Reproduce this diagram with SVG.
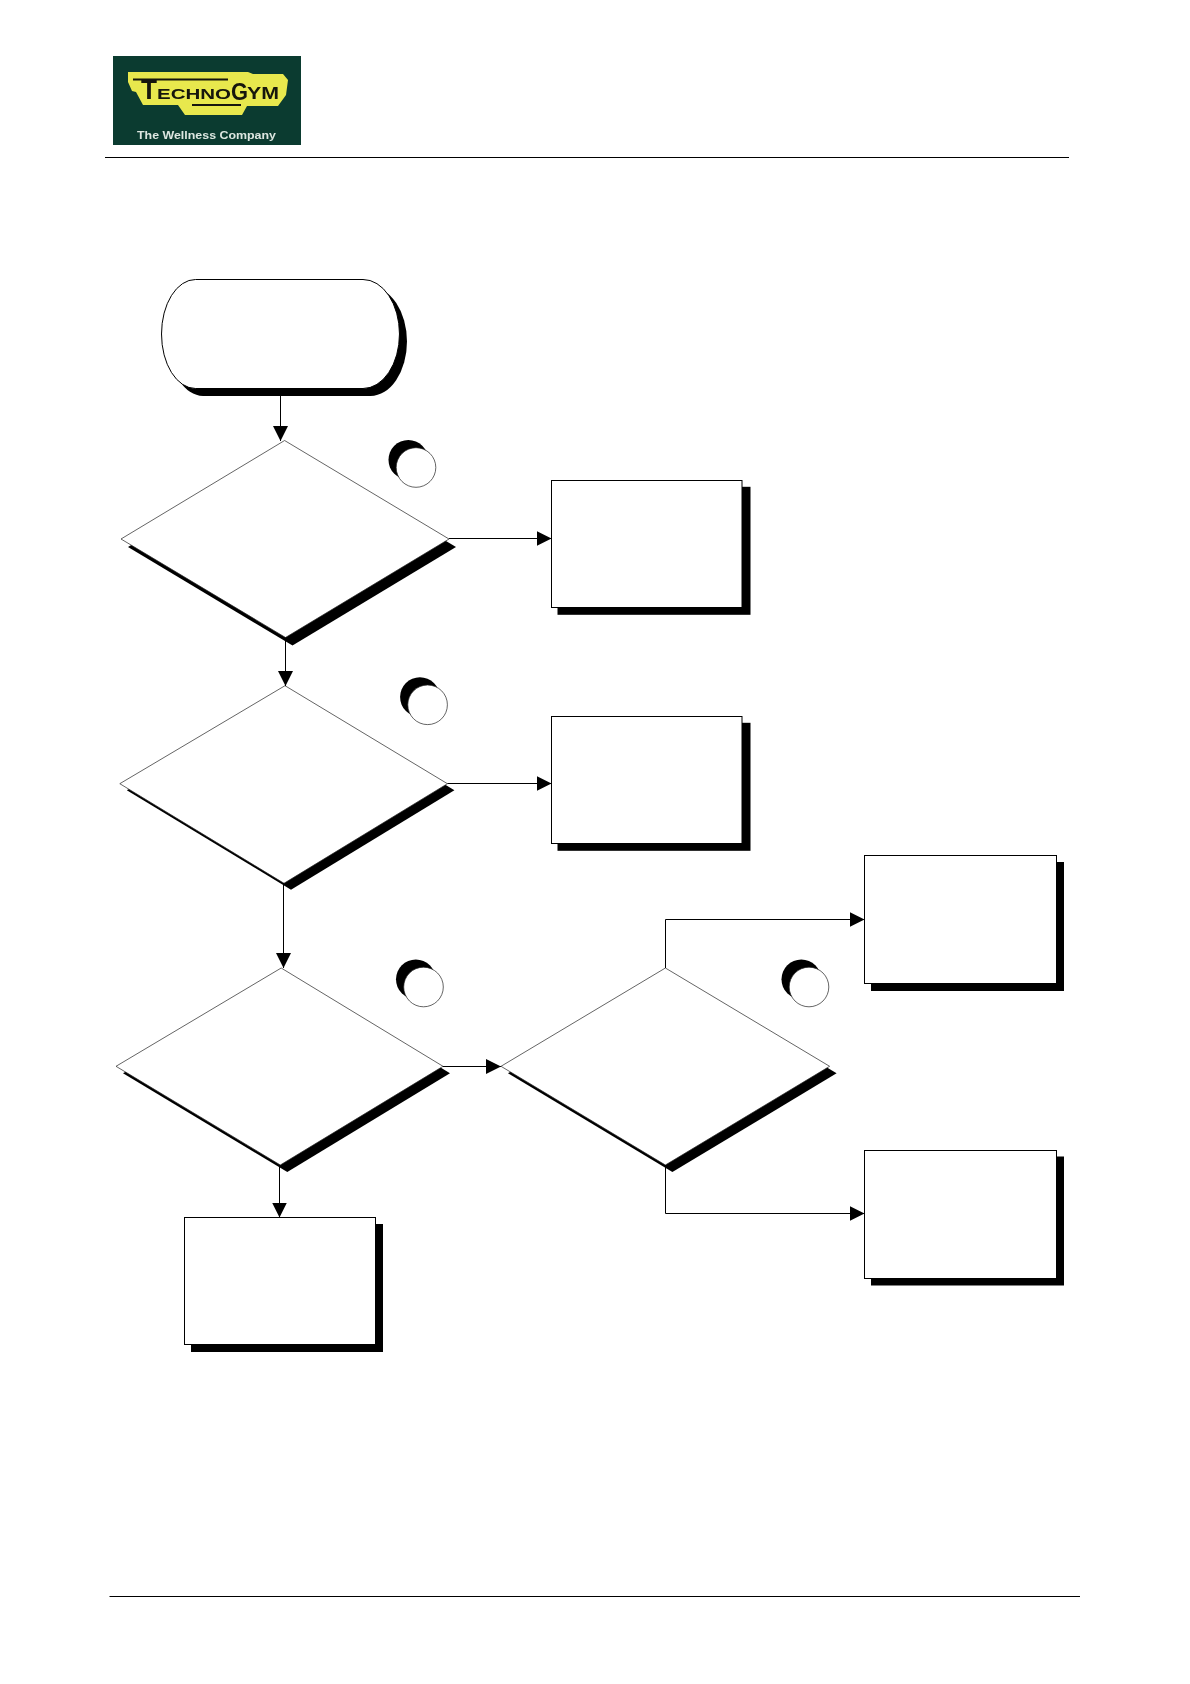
<svg xmlns="http://www.w3.org/2000/svg" width="1190" height="1684" viewBox="0 0 1190 1684">
<style>
.sh{fill:#000;stroke:none}
.box{fill:#fff;stroke:#000;stroke-width:1}
.thin{fill:#fff;stroke:#222;stroke-width:.7}
.rule{stroke:#000;stroke-width:1;fill:none}
.con{stroke:#000;stroke-width:1;fill:none;marker-end:url(#arrow)}
.logo{font-family:"Liberation Sans",Arial,sans-serif;font-weight:bold}
</style>
<defs>
<marker id="arrow" markerUnits="userSpaceOnUse" markerWidth="15" markerHeight="15" viewBox="0 0 15 15" refX="15" refY="7.5" orient="auto"><path d="M0 0L15 7.5L0 15Z" fill="#000"/></marker>
<filter id="soft" x="-5%" y="-5%" width="110%" height="110%"><feGaussianBlur stdDeviation=".45"/></filter>
</defs>
<rect width="1190" height="1684" fill="#fff"/>
<g id="logo">
<rect x="113" y="56" width="188" height="89" fill="#0b3b30"/>
<g filter="url(#soft)">
<path d="M128 72H248L253 74H283L288 80L286 95L278 106H247L242 115H185L178 105H143L136 92L132 91L128 82Z" fill="#e8e84e"/>
<path d="M133 79.5H228M192 105H241" stroke="#15150a" stroke-width="2" fill="none"/>
<text class="logo" x="141" y="99" font-size="27" fill="#15150a" textLength="16" lengthAdjust="spacingAndGlyphs">T</text>
<text class="logo" x="157" y="99" font-size="15.5" fill="#15150a" textLength="74" lengthAdjust="spacingAndGlyphs">ECHNO</text>
<text class="logo" x="231" y="100" font-size="24" fill="#15150a" textLength="17" lengthAdjust="spacingAndGlyphs">G</text>
<text class="logo" x="247" y="99" font-size="17" fill="#15150a" textLength="32" lengthAdjust="spacingAndGlyphs">YM</text>
<text class="logo" x="137" y="139" font-size="11.5" fill="#dce6e0" textLength="139" lengthAdjust="spacingAndGlyphs">The Wellness Company</text>
</g>
</g>
<path class="rule" d="M105 157.5H1069M109.5 1596.5H1080"/>
<g id="start">
<path class="sh" transform="translate(7.5 7.5)" d="M195.5 279.5H363A36.5 54.5 0 0 1 363 388.5H195.5A34 54.5 0 0 1 195.5 279.5Z"/>
<path class="box" d="M195.5 279.5H363A36.5 54.5 0 0 1 363 388.5H195.5A34 54.5 0 0 1 195.5 279.5Z"/>
</g>
<g id="decision1">
<path class="sh" transform="translate(7 8)" d="M284.6 440.5L449 539L285.5 637.5L121 539Z"/>
<path class="thin" d="M284.6 440.5L449 539L285.5 637.5L121 539Z"/>
</g>
<g id="marker1"><ellipse class="sh" cx="408.3" cy="459.8" rx="19.8" ry="19.8"/><ellipse class="thin" cx="416" cy="467.5" rx="19.8" ry="19.8"/></g>
<g id="action1"><rect class="sh" x="557.5" y="486.8" width="193" height="128"/><rect class="box" x="551.5" y="480.5" width="190.5" height="127"/></g>
<g id="decision2">
<path class="sh" transform="translate(7 6.5)" d="M285 685.7L447.4 783.7L284 883.3L119.8 783.7Z"/>
<path class="thin" d="M285 685.7L447.4 783.7L284 883.3L119.8 783.7Z"/>
</g>
<g id="marker2"><ellipse class="sh" cx="419.9" cy="697.1" rx="19.8" ry="19.8"/><ellipse class="thin" cx="427.6" cy="704.8" rx="19.8" ry="19.8"/></g>
<g id="action2"><rect class="sh" x="557.5" y="722.8" width="193" height="128"/><rect class="box" x="551.5" y="716.5" width="190.5" height="127"/></g>
<g id="decision3">
<path class="sh" transform="translate(7 7)" d="M281.2 968L443 1066.3L280.3 1165L116 1066.3Z"/>
<path class="thin" d="M281.2 968L443 1066.3L280.3 1165L116 1066.3Z"/>
</g>
<g id="marker3"><ellipse class="sh" cx="415.8" cy="979.3" rx="19.8" ry="19.8"/><ellipse class="thin" cx="423.5" cy="987" rx="19.8" ry="19.8"/></g>
<g id="decision4">
<path class="sh" transform="translate(7 7)" d="M665.4 968L829.6 1066.3L665.4 1165L501 1066.3Z"/>
<path class="thin" d="M665.4 968L829.6 1066.3L665.4 1165L501 1066.3Z"/>
</g>
<g id="marker4"><ellipse class="sh" cx="801.3" cy="979.3" rx="19.8" ry="19.8"/><ellipse class="thin" cx="809" cy="987" rx="19.8" ry="19.8"/></g>
<g id="action3"><rect class="sh" x="871" y="862" width="193" height="129"/><rect class="box" x="864.5" y="855.5" width="192" height="128"/></g>
<g id="action4"><rect class="sh" x="871" y="1156.5" width="193" height="129"/><rect class="box" x="864.5" y="1150.5" width="192" height="128"/></g>
<g id="action5"><rect class="sh" x="191" y="1224" width="192" height="128"/><rect class="box" x="184.5" y="1217.5" width="191" height="127"/></g>
<g id="connectors">
<path class="con" d="M280.5 396V441"/>
<path class="con" d="M449 538.5H551.5"/>
<path class="con" d="M285.5 637.5V686"/>
<path class="con" d="M447.4 783.5H551.5"/>
<path class="con" d="M283.5 883V968"/>
<path class="con" d="M443 1066.5H501"/>
<path class="con" d="M279.5 1165V1217.5"/>
<path class="con" d="M665.5 968V919.5H864.5"/>
<path class="con" d="M665.5 1165V1213.5H864.5"/>
</g>
</svg>
